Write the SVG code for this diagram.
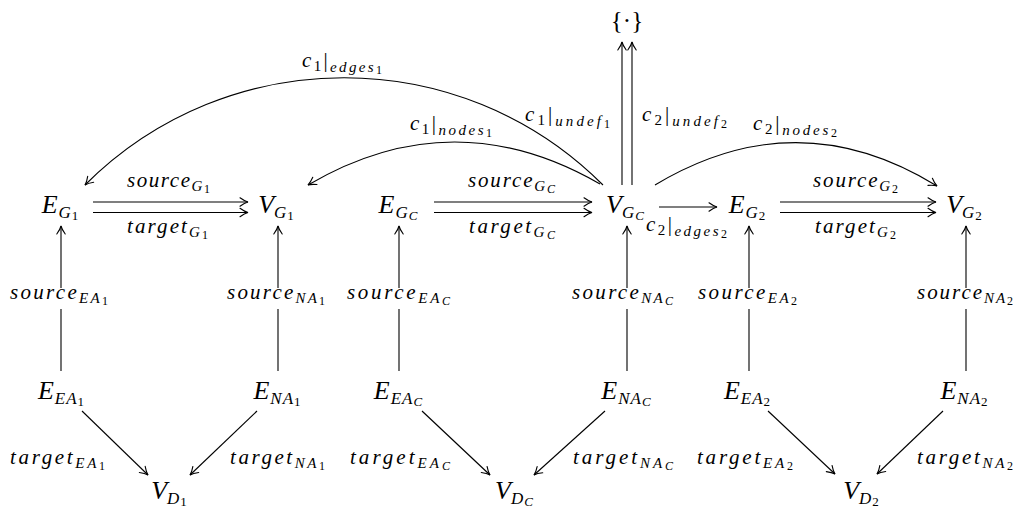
<svg xmlns="http://www.w3.org/2000/svg" width="1022" height="514" viewBox="0 0 1022 514">
<defs>
<style>
.m{font-family:"Liberation Serif","Times New Roman",serif;font-style:italic;fill:#000}
.n{font-size:26px}
.l{font-size:21px}
.ns{font-size:17px;letter-spacing:1px}
.nss{font-size:13px}
.ls{font-size:15px}
.lss{font-size:12px}
.up{font-style:normal}
.e{fill:none;stroke:#000;stroke-width:1.1}
.a{marker-end:url(#to)}
</style>
<marker id="to" markerUnits="userSpaceOnUse" markerWidth="20" markerHeight="20" viewBox="-10 -10 20 20" refX="0" refY="0" orient="auto" overflow="visible">
<path d="M-8,-4.2 C-5,-2 -2,-0.5 0,0 C-2,0.5 -5,2 -8,4.2" fill="none" stroke="#000" stroke-width="1.1" stroke-linecap="round"/>
</marker>
</defs>
<rect width="1022" height="514" fill="#fff"/>

<g id="connectors">
<path class="e a" d="M93,202 H248"/>
<path class="e a" d="M93,212.5 H248"/>
<path class="e a" d="M434,202 H592"/>
<path class="e a" d="M434,212.5 H592"/>
<path class="e a" d="M780,202 H936"/>
<path class="e a" d="M780,212.5 H936"/>
<path class="e a" d="M659,207 H717"/>
<path class="e a" d="M622,185 V42"/>
<path class="e a" d="M632,185 V42"/>
<path class="e a" d="M603,185 C460,42 228,42 85,185"/>
<path class="e a" d="M600,184 C503,128 405,128 308,185"/>
<path class="e a" d="M655,185 C750,128 843,128 937,186"/>
<path class="e a" d="M61,371 V309 M61,288 V226"/>
<path class="e a" d="M278,371 V309 M278,288 V226"/>
<path class="e a" d="M399,371 V309 M399,288 V226"/>
<path class="e a" d="M627,371 V309 M627,288 V226"/>
<path class="e a" d="M749,371 V309 M749,288 V226"/>
<path class="e a" d="M966,371 V309 M966,288 V226"/>
<path class="e a" d="M82,411 L148,475"/>
<path class="e a" d="M257,411 L190,475"/>
<path class="e a" d="M422,411 L490,475"/>
<path class="e a" d="M605,411 L534,475"/>
<path class="e a" d="M768,411 L835,474"/>
<path class="e a" d="M943,411 L877,474"/>
</g>

<g id="edge-labels">
<text class="m l" x="168.5" y="187" text-anchor="middle" textLength="83" lengthAdjust="spacing">source<tspan class="ls" dy="4">G</tspan><tspan class="lss up" dy="2">1</tspan></text>
<text class="m l" x="167.5" y="233" text-anchor="middle" textLength="81" lengthAdjust="spacing">target<tspan class="ls" dy="4">G</tspan><tspan class="lss up" dy="2">1</tspan></text>
<text class="m l" x="511.5" y="187" text-anchor="middle" textLength="87" lengthAdjust="spacing">source<tspan class="ls" dy="4">G</tspan><tspan class="lss" dy="2">C</tspan></text>
<text class="m l" x="512" y="233" text-anchor="middle" textLength="86" lengthAdjust="spacing">target<tspan class="ls" dy="4">G</tspan><tspan class="lss" dy="2">C</tspan></text>
<text class="m l" x="855.5" y="187" text-anchor="middle" textLength="85" lengthAdjust="spacing">source<tspan class="ls" dy="4">G</tspan><tspan class="lss up" dy="2">2</tspan></text>
<text class="m l" x="855.5" y="233" text-anchor="middle" textLength="81" lengthAdjust="spacing">target<tspan class="ls" dy="4">G</tspan><tspan class="lss up" dy="2">2</tspan></text>

<text class="m l" x="59" y="299" text-anchor="middle" textLength="98" lengthAdjust="spacing">source<tspan class="ls" dy="4">EA</tspan><tspan class="lss up" dy="2">1</tspan></text>
<text class="m l" x="276" y="299" text-anchor="middle" textLength="98" lengthAdjust="spacing">source<tspan class="ls" dy="4">NA</tspan><tspan class="lss up" dy="2">1</tspan></text>
<text class="m l" x="398.5" y="299" text-anchor="middle" textLength="103" lengthAdjust="spacing">source<tspan class="ls" dy="4">EA</tspan><tspan class="lss" dy="2">C</tspan></text>
<text class="m l" x="622.5" y="299" text-anchor="middle" textLength="101" lengthAdjust="spacing">source<tspan class="ls" dy="4">NA</tspan><tspan class="lss" dy="2">C</tspan></text>
<text class="m l" x="747.5" y="299" text-anchor="middle" textLength="99" lengthAdjust="spacing">source<tspan class="ls" dy="4">EA</tspan><tspan class="lss up" dy="2">2</tspan></text>
<text class="m l" x="965" y="299" text-anchor="middle" textLength="96" lengthAdjust="spacing">source<tspan class="ls" dy="4">NA</tspan><tspan class="lss up" dy="2">2</tspan></text>

<text class="m l" x="57.5" y="464" text-anchor="middle" textLength="95" lengthAdjust="spacing">target<tspan class="ls" dy="4">EA</tspan><tspan class="lss up" dy="2">1</tspan></text>
<text class="m l" x="277.5" y="464" text-anchor="middle" textLength="95" lengthAdjust="spacing">target<tspan class="ls" dy="4">NA</tspan><tspan class="lss up" dy="2">1</tspan></text>
<text class="m l" x="400" y="464" text-anchor="middle" textLength="100" lengthAdjust="spacing">target<tspan class="ls" dy="4">EA</tspan><tspan class="lss" dy="2">C</tspan></text>
<text class="m l" x="623" y="464" text-anchor="middle" textLength="100" lengthAdjust="spacing">target<tspan class="ls" dy="4">NA</tspan><tspan class="lss" dy="2">C</tspan></text>
<text class="m l" x="745" y="464" text-anchor="middle" textLength="96" lengthAdjust="spacing">target<tspan class="ls" dy="4">EA</tspan><tspan class="lss up" dy="2">2</tspan></text>
<text class="m l" x="965" y="464" text-anchor="middle" textLength="96" lengthAdjust="spacing">target<tspan class="ls" dy="4">NA</tspan><tspan class="lss up" dy="2">2</tspan></text>

<text class="m l" x="342" y="67" text-anchor="middle" textLength="80" lengthAdjust="spacing">c<tspan class="ls up" dy="4">1</tspan><tspan class="up" dy="-4">|</tspan><tspan class="ls" dy="5">edges</tspan><tspan class="lss up" dy="2">1</tspan></text>
<text class="m l" x="451" y="130" text-anchor="middle" textLength="82" lengthAdjust="spacing">c<tspan class="ls up" dy="4">1</tspan><tspan class="up" dy="-4">|</tspan><tspan class="ls" dy="5">nodes</tspan><tspan class="lss up" dy="2">1</tspan></text>
<text class="m l" x="567.5" y="121" text-anchor="middle" textLength="85" lengthAdjust="spacing">c<tspan class="ls up" dy="4">1</tspan><tspan class="up" dy="-4">|</tspan><tspan class="ls" dy="5">undef</tspan><tspan class="lss up" dy="2">1</tspan></text>
<text class="m l" x="684.5" y="121" text-anchor="middle" textLength="85" lengthAdjust="spacing">c<tspan class="ls up" dy="4">2</tspan><tspan class="up" dy="-4">|</tspan><tspan class="ls" dy="5">undef</tspan><tspan class="lss up" dy="2">2</tspan></text>
<text class="m l" x="795" y="130" text-anchor="middle" textLength="84" lengthAdjust="spacing">c<tspan class="ls up" dy="4">2</tspan><tspan class="up" dy="-4">|</tspan><tspan class="ls" dy="5">nodes</tspan><tspan class="lss up" dy="2">2</tspan></text>
<text class="m l" x="686.5" y="231" text-anchor="middle" textLength="81" lengthAdjust="spacing">c<tspan class="ls up" dy="4">2</tspan><tspan class="up" dy="-4">|</tspan><tspan class="ls" dy="5">edges</tspan><tspan class="lss up" dy="2">2</tspan></text>
</g>

<g id="node-unit">
<text class="m up" x="627" y="29" text-anchor="middle" style="font-size:25px">{·}</text>
</g>
<g id="node-EG1"><text class="m n" x="60" y="213" text-anchor="middle">E<tspan class="ns" dx="1" dy="5">G</tspan><tspan class="nss up" dy="2">1</tspan></text></g>
<g id="node-VG1"><text class="m n" x="276" y="213" text-anchor="middle">V<tspan class="ns" dy="5">G</tspan><tspan class="nss up" dy="2">1</tspan></text></g>
<g id="node-EGC"><text class="m n" x="398" y="213" text-anchor="middle">E<tspan class="ns" dx="1" dy="5">G</tspan><tspan class="nss" dy="2">C</tspan></text></g>
<g id="node-VGC"><text class="m n" x="625" y="213" text-anchor="middle">V<tspan class="ns" dy="5">G</tspan><tspan class="nss" dy="2">C</tspan></text></g>
<g id="node-EG2"><text class="m n" x="747" y="213" text-anchor="middle">E<tspan class="ns" dx="1" dy="5">G</tspan><tspan class="nss up" dy="2">2</tspan></text></g>
<g id="node-VG2"><text class="m n" x="964" y="213" text-anchor="middle">V<tspan class="ns" dy="5">G</tspan><tspan class="nss up" dy="2">2</tspan></text></g>

<g id="node-EEA1"><text class="m n" x="61" y="399" text-anchor="middle">E<tspan class="ns" dx="1" dy="5">EA</tspan><tspan class="nss up" dy="2">1</tspan></text></g>
<g id="node-ENA1"><text class="m n" x="277" y="399" text-anchor="middle">E<tspan class="ns" dx="1" dy="5">NA</tspan><tspan class="nss up" dy="2">1</tspan></text></g>
<g id="node-EEAC"><text class="m n" x="398" y="399" text-anchor="middle">E<tspan class="ns" dx="1" dy="5">EA</tspan><tspan class="nss" dy="2">C</tspan></text></g>
<g id="node-ENAC"><text class="m n" x="626" y="399" text-anchor="middle">E<tspan class="ns" dx="1" dy="5">NA</tspan><tspan class="nss" dy="2">C</tspan></text></g>
<g id="node-EEA2"><text class="m n" x="747" y="399" text-anchor="middle">E<tspan class="ns" dx="1" dy="5">EA</tspan><tspan class="nss up" dy="2">2</tspan></text></g>
<g id="node-ENA2"><text class="m n" x="964" y="399" text-anchor="middle">E<tspan class="ns" dx="1" dy="5">NA</tspan><tspan class="nss up" dy="2">2</tspan></text></g>

<g id="node-VD1"><text class="m n" x="169" y="499" text-anchor="middle">V<tspan class="ns" dy="5">D</tspan><tspan class="nss up" dy="2">1</tspan></text></g>
<g id="node-VDC"><text class="m n" x="514" y="499" text-anchor="middle">V<tspan class="ns" dy="5">D</tspan><tspan class="nss" dy="2">C</tspan></text></g>
<g id="node-VD2"><text class="m n" x="861" y="499" text-anchor="middle">V<tspan class="ns" dy="5">D</tspan><tspan class="nss up" dy="2">2</tspan></text></g>
</svg>
